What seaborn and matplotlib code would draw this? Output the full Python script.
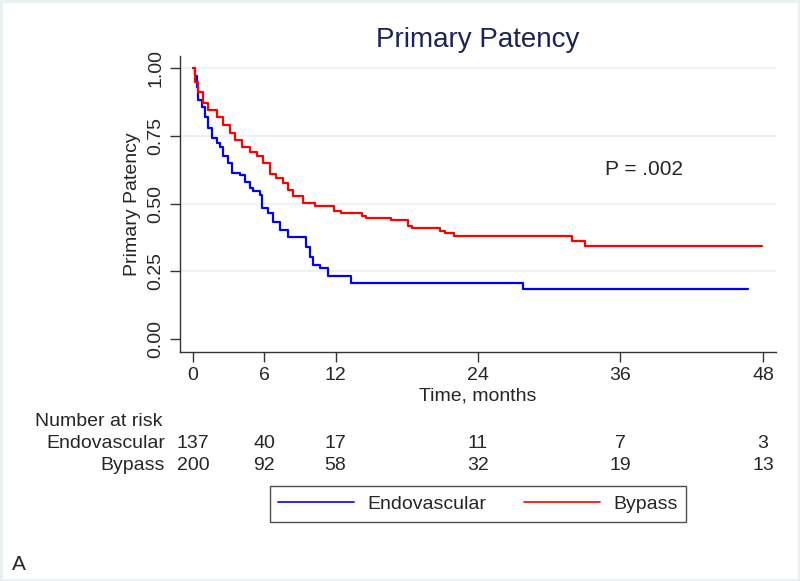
import pandas as pd
import matplotlib
matplotlib.use("Agg")
import matplotlib.pyplot as plt
import seaborn as sns

# survival curves (months, proportion patent)
endo_t = [0, 0.17, 0.3, 0.45, 0.73, 1.0, 1.26, 1.57, 2.0, 2.27, 2.5, 2.97, 3.25, 3.95, 4.4, 4.8,
          5.07, 5.6, 5.77, 6.33, 6.75, 7.3, 8.0, 9.55, 9.83, 10.1, 10.67, 11.37, 13.3, 27.75, 46.7]
endo_s = [1.0, 0.97, 0.93, 0.883, 0.858, 0.82, 0.78, 0.743, 0.724, 0.71, 0.674, 0.649, 0.612, 0.606, 0.58, 0.557,
          0.545, 0.532, 0.483, 0.465, 0.434, 0.403, 0.376, 0.342, 0.305, 0.274, 0.262, 0.234, 0.207, 0.187, 0.187]

bypass_t = [0, 0.17, 0.45, 0.84, 1.26, 2.0, 2.5, 3.1, 3.5, 4.1, 4.8, 5.35, 5.9, 6.5, 7.0, 7.6, 8.0, 8.4,
            9.27, 10.25, 11.9, 12.5, 14.2, 14.6, 16.7, 18.1, 18.4, 20.8, 21.2, 22.0, 31.9, 33.0, 47.9]
bypass_s = [1.0, 0.95, 0.91, 0.87, 0.845, 0.82, 0.79, 0.76, 0.735, 0.71, 0.69, 0.675, 0.65, 0.61, 0.594, 0.575, 0.55, 0.53,
            0.502, 0.49, 0.472, 0.465, 0.455, 0.446, 0.438, 0.416, 0.41, 0.401, 0.391, 0.379, 0.364, 0.345, 0.345]

# number at risk table
risk_times = [0, 6, 12, 24, 36, 48]
risk_endo = [137, 40, 17, 11, 7, 3]
risk_bypass = [200, 92, 58, 32, 19, 13]

groups = ["Endovascular", "Bypass"]
colors = {"Endovascular": "#0000ff", "Bypass": "#ff0000"}

df = pd.concat([
    pd.DataFrame({"t": endo_t, "s": endo_s, "group": "Endovascular"}),
    pd.DataFrame({"t": bypass_t, "s": bypass_s, "group": "Bypass"}),
])

sns.set_style("white")
plt.rcParams["font.family"] = ["Liberation Sans", "DejaVu Sans"]

fig = plt.figure(figsize=(8, 5.81), dpi=100)
fig.patch.set_edgecolor("#e9f0f2")
fig.patch.set_linewidth(2.5)
ax = fig.add_axes([0.225, 0.394, 0.745, 0.51])

sns.lineplot(data=df, x="t", y="s", hue="group", hue_order=groups, palette=colors,
             drawstyle="steps-post", estimator=None, sort=False, linewidth=1.6, ax=ax, legend=False)

ax.set_xlim(-1.1, 49.1)
ax.set_ylim(-0.047, 1.045)
ax.set_xticks(risk_times)
ax.set_yticks([0, 0.25, 0.5, 0.75, 1.0])
ax.set_yticklabels(["0.00", "0.25", "0.50", "0.75", "1.00"], rotation=90, va="center")
for yv in [0.25, 0.5, 0.75, 1.0]:
    ax.axhline(yv, color="#e8f0f3", linewidth=1.2, zorder=0)
ax.tick_params(axis="both", labelsize=14, length=7, width=1, direction="out", color="#333333",
               left=True, bottom=True, pad=4)
for side in ["top", "right"]:
    ax.spines[side].set_visible(False)
for side in ["left", "bottom"]:
    ax.spines[side].set_color("#333333")
    ax.spines[side].set_linewidth(1)

ax.set_xlabel("Time, months", fontsize=14, labelpad=2)
ax.set_ylabel("Primary Patency", fontsize=14, labelpad=5)
ax.set_title("Primary Patency", fontsize=20, color="#1a2556", pad=6)
ax.text(38, 0.625, "P = .002", fontsize=15, ha="center", va="center")

# number at risk rows
fig.text(35 / 800, 1 - 421 / 581, "Number at risk", fontsize=14, ha="left", va="center")
for label, counts, ypix in [("Endovascular", risk_endo, 443), ("Bypass", risk_bypass, 465)]:
    fig.text(165 / 800, 1 - ypix / 581, label, fontsize=14, ha="right", va="center")
    for tm, n in zip(risk_times, counts):
        xfig = fig.transFigure.inverted().transform(ax.transData.transform((tm, 0)))[0]
        fig.text(xfig, 1 - ypix / 581, str(n), fontsize=14, ha="center", va="center")

handles = [plt.Line2D([], [], color=colors[g], linewidth=1.2) for g in groups]
leg = fig.legend(handles, groups, loc="center", bbox_to_anchor=(478 / 800, 1 - 504 / 581), ncol=2,
                 fontsize=14, frameon=True, fancybox=False, handlelength=3.9, handletextpad=0.7,
                 columnspacing=1.9, borderpad=0.45)
leg.get_frame().set_edgecolor("#222222")
leg.get_frame().set_linewidth(1)

fig.text(12 / 800, 1 - 565 / 581, "A", fontsize=15, ha="left", va="center")

fig.savefig("out.png", dpi=100, edgecolor=fig.get_edgecolor())
